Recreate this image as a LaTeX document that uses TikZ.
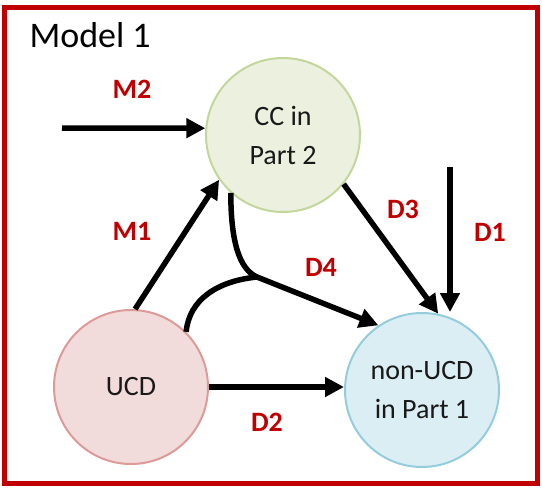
\documentclass[tikz,border=0pt]{standalone}
\usepackage{fontspec}
\setmainfont{Carlito}
\usetikzlibrary{shapes,arrows.meta}
\definecolor{darkred}{HTML}{C00000}
\definecolor{ccfill}{HTML}{EBF1DE}
\definecolor{ccline}{HTML}{C3D69B}
\definecolor{ucdfill}{HTML}{F2DCDB}
\definecolor{ucdline}{HTML}{DC9A98}
\definecolor{nonfill}{HTML}{DBEEF4}
\definecolor{nonline}{HTML}{93CDDD}
\begin{document}
\begin{tikzpicture}[x=1pt,y=-1pt,
    state/.style={circle,line width=2pt,minimum size=154pt,inner sep=0pt,align=center,
      text=black!90,font=\fontsize{28}{39}\selectfont},
    conn/.style={line width=5.5pt,-{Triangle[length=19pt,width=19pt]}},
    lbl/.style={text=darkred,font=\bfseries\fontsize{28}{34}\selectfont}]
  \useasboundingbox (0,0) rectangle (542,488);
  \draw[darkred,line width=5pt] (4.5,7.5) rectangle (537.5,483.5);
  \node[anchor=base west,font=\fontsize{36}{40}\selectfont] (title) at (26,47) {Model 1};

  % the three states
  \node[state,fill=ccfill,draw=ccline] (CC) at (283,135) {CC in\\Part 2};
  \node[state,fill=ucdfill,draw=ucdline] (UCD) at (131,387) {UCD};
  \node[state,fill=nonfill,draw=nonline] (non) at (422,390) {non-UCD\\in Part 1};

  \coordinate (m2) at (62,128);
  \coordinate (d1) at (450,167);
  \coordinate (join) at (257,277);

  % effects
  \draw[conn] (m2) -- (CC.175);
  \draw[conn] (UCD.87) -- (CC.215);
  \draw[conn] (CC.321) -- (non.78);
  \draw[conn] (d1) -- (d1 |- non.north);
  \draw[conn] (UCD.east) -- (UCD.east -| non.west);
  \draw[conn] (CC.228) .. controls +(0,48) and +(-18,-8) .. (join) -- (non.124);
  \draw[line width=5.5pt] (UCD.45) .. controls +(3,-32) and +(-40,4) .. (join);

  % labels
  \node[lbl] (lM2) at (132,89) {M2};
  \node[lbl] (lM1) at (132,231) {M1};
  \node[lbl] (lD3) at (403,209) {D3};
  \node[lbl] (lD1) at (490,232) {D1};
  \node[lbl] (lD4) at (321,267) {D4};
  \node[lbl] (lD2) at (267,422) {D2};
\end{tikzpicture}
\end{document}
